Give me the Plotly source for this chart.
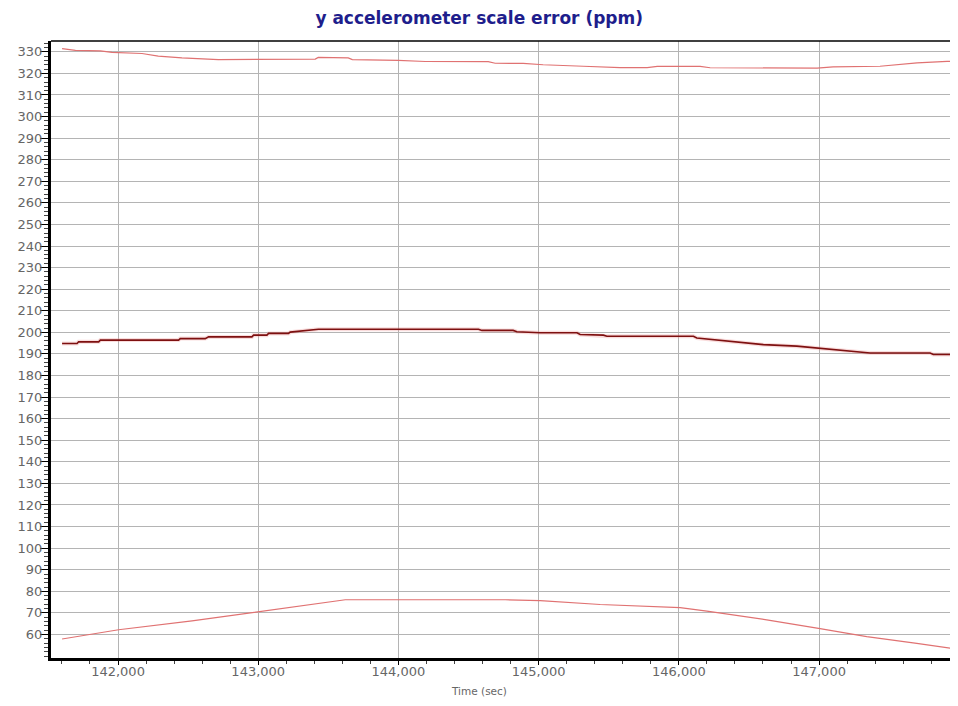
import plotly.graph_objects as go

# Time stamps (sec) and values (ppm)
upper_t = [141601, 141696, 141874, 141957, 142171, 142287, 142456, 142715, 143407, 143428,
           143642, 143671, 143999, 144191, 144640, 144690, 144890, 145032, 145318, 145581,
           145774, 145846, 146152, 146223, 146986, 147100, 147435, 147578, 147699, 147913, 147984]
upper_v = [331.5, 330.7, 330.4, 329.7, 329.2, 328.0, 327.2, 326.4, 326.6, 327.4,
           327.2, 326.4, 326.0, 325.5, 325.4, 324.7, 324.6, 324.0, 323.3, 322.7,
           322.7, 323.2, 323.2, 322.6, 322.4, 323.0, 323.3, 324.3, 324.9, 325.6, 325.6]

mid_t = [141601, 141708, 141719, 141862, 141874, 142432, 142444, 142622, 142646, 142955,
         142967, 143062, 143074, 143216, 143228, 143335, 143430, 144571, 144595, 144818,
         144845, 145011, 145273, 145296, 145462, 145487, 146104, 146128, 146247, 146366,
         146485, 146603, 146841, 146984, 147102, 147245, 147364, 147792, 147815, 147991]
mid_v = [194.8, 194.8, 195.6, 195.6, 196.4, 196.4, 197.1, 197.1, 197.9, 197.9,
         198.7, 198.7, 199.5, 199.5, 200.1, 200.8, 201.4, 201.4, 200.9, 200.9,
         200.3, 199.8, 199.8, 199.0, 198.7, 198.2, 198.2, 197.4, 196.6, 195.9,
         195.1, 194.3, 193.6, 192.8, 192.0, 191.2, 190.4, 190.4, 189.7, 189.7]

lower_t = [141601, 142004, 142528, 143003, 143288, 143573, 143621, 144761, 145011, 145439,
           146009, 146200, 146627, 147007, 147340, 147697, 147982]
lower_v = [57.9, 62.2, 66.3, 70.5, 73.3, 75.8, 76.1, 76.1, 75.7, 73.9,
           72.4, 70.8, 66.8, 62.7, 59.0, 55.9, 53.2]

y_ticks = list(range(60, 331, 10))
x_ticks = list(range(142000, 147001, 1000))
x_labels = [f"{v:,}" for v in x_ticks]

fig = go.Figure()
fig.add_trace(go.Scatter(x=upper_t, y=upper_v, mode="lines",
                         line=dict(color="#e07272", width=1.2), showlegend=False))
fig.add_trace(go.Scatter(x=mid_t, y=mid_v, mode="lines",
                         line=dict(color="rgba(235,140,140,0.3)", width=4), showlegend=False,
                         hoverinfo="skip"))
fig.add_trace(go.Scatter(x=mid_t, y=mid_v, mode="lines",
                         line=dict(color="#7e1010", width=1.6), showlegend=False))
fig.add_trace(go.Scatter(x=lower_t, y=lower_v, mode="lines",
                         line=dict(color="#e07272", width=1.2), showlegend=False))

tickfont = dict(family="DejaVu Sans", size=13, color="#666666")

fig.update_layout(
    width=950, height=698,
    margin=dict(l=43, r=0, t=33, b=48, autoexpand=False),
    paper_bgcolor="white", plot_bgcolor="white",
    title=dict(text="y accelerometer scale error (ppm)",
               font=dict(family="DejaVu Sans", size=17, color="#1e1e8c", weight="bold"),
               x=0.496, xref="container", xanchor="center",
               y=0.9855, yref="container", yanchor="middle", pad=dict(t=0, b=0)),
    xaxis=dict(range=[141522, 147991], tickvals=x_ticks, ticktext=x_labels,
               showgrid=True, gridcolor="#b4b4b4", gridwidth=1,
               showline=True, linecolor="black", linewidth=3,
               ticks="outside", ticklen=4, tickcolor="black", tickwidth=1,
               minor=dict(tick0=0, dtick=200, ticks="outside", ticklen=3,
                          tickcolor="#444", showgrid=False),
               ticklabelstandoff=-5,
               tickfont=tickfont, zeroline=False, automargin=False),
    yaxis=dict(range=[49.1, 335], tickvals=y_ticks,
               showgrid=True, gridcolor="#b4b4b4", gridwidth=1,
               showline=True, linecolor="black", linewidth=3,
               ticks="outside", ticklen=8, tickcolor="black", tickwidth=1,
               minor=dict(tick0=0, dtick=2, ticks="outside", ticklen=4,
                          tickcolor="#444", showgrid=False),
               ticklabelstandoff=-5,
               tickfont=tickfont, zeroline=False, automargin=False),
    shapes=[dict(type="line", xref="paper", yref="paper", x0=0, x1=1, y0=1, y1=1,
                 line=dict(color="black", width=1.5))],
    annotations=[dict(text="Time (sec)", xref="paper", yref="paper",
                      x=0.472, y=-0.0527, xanchor="center", yanchor="middle",
                      showarrow=False,
                      font=dict(family="DejaVu Sans", size=10.5, color="#666666"))],
)

fig.write_html("out.html")
